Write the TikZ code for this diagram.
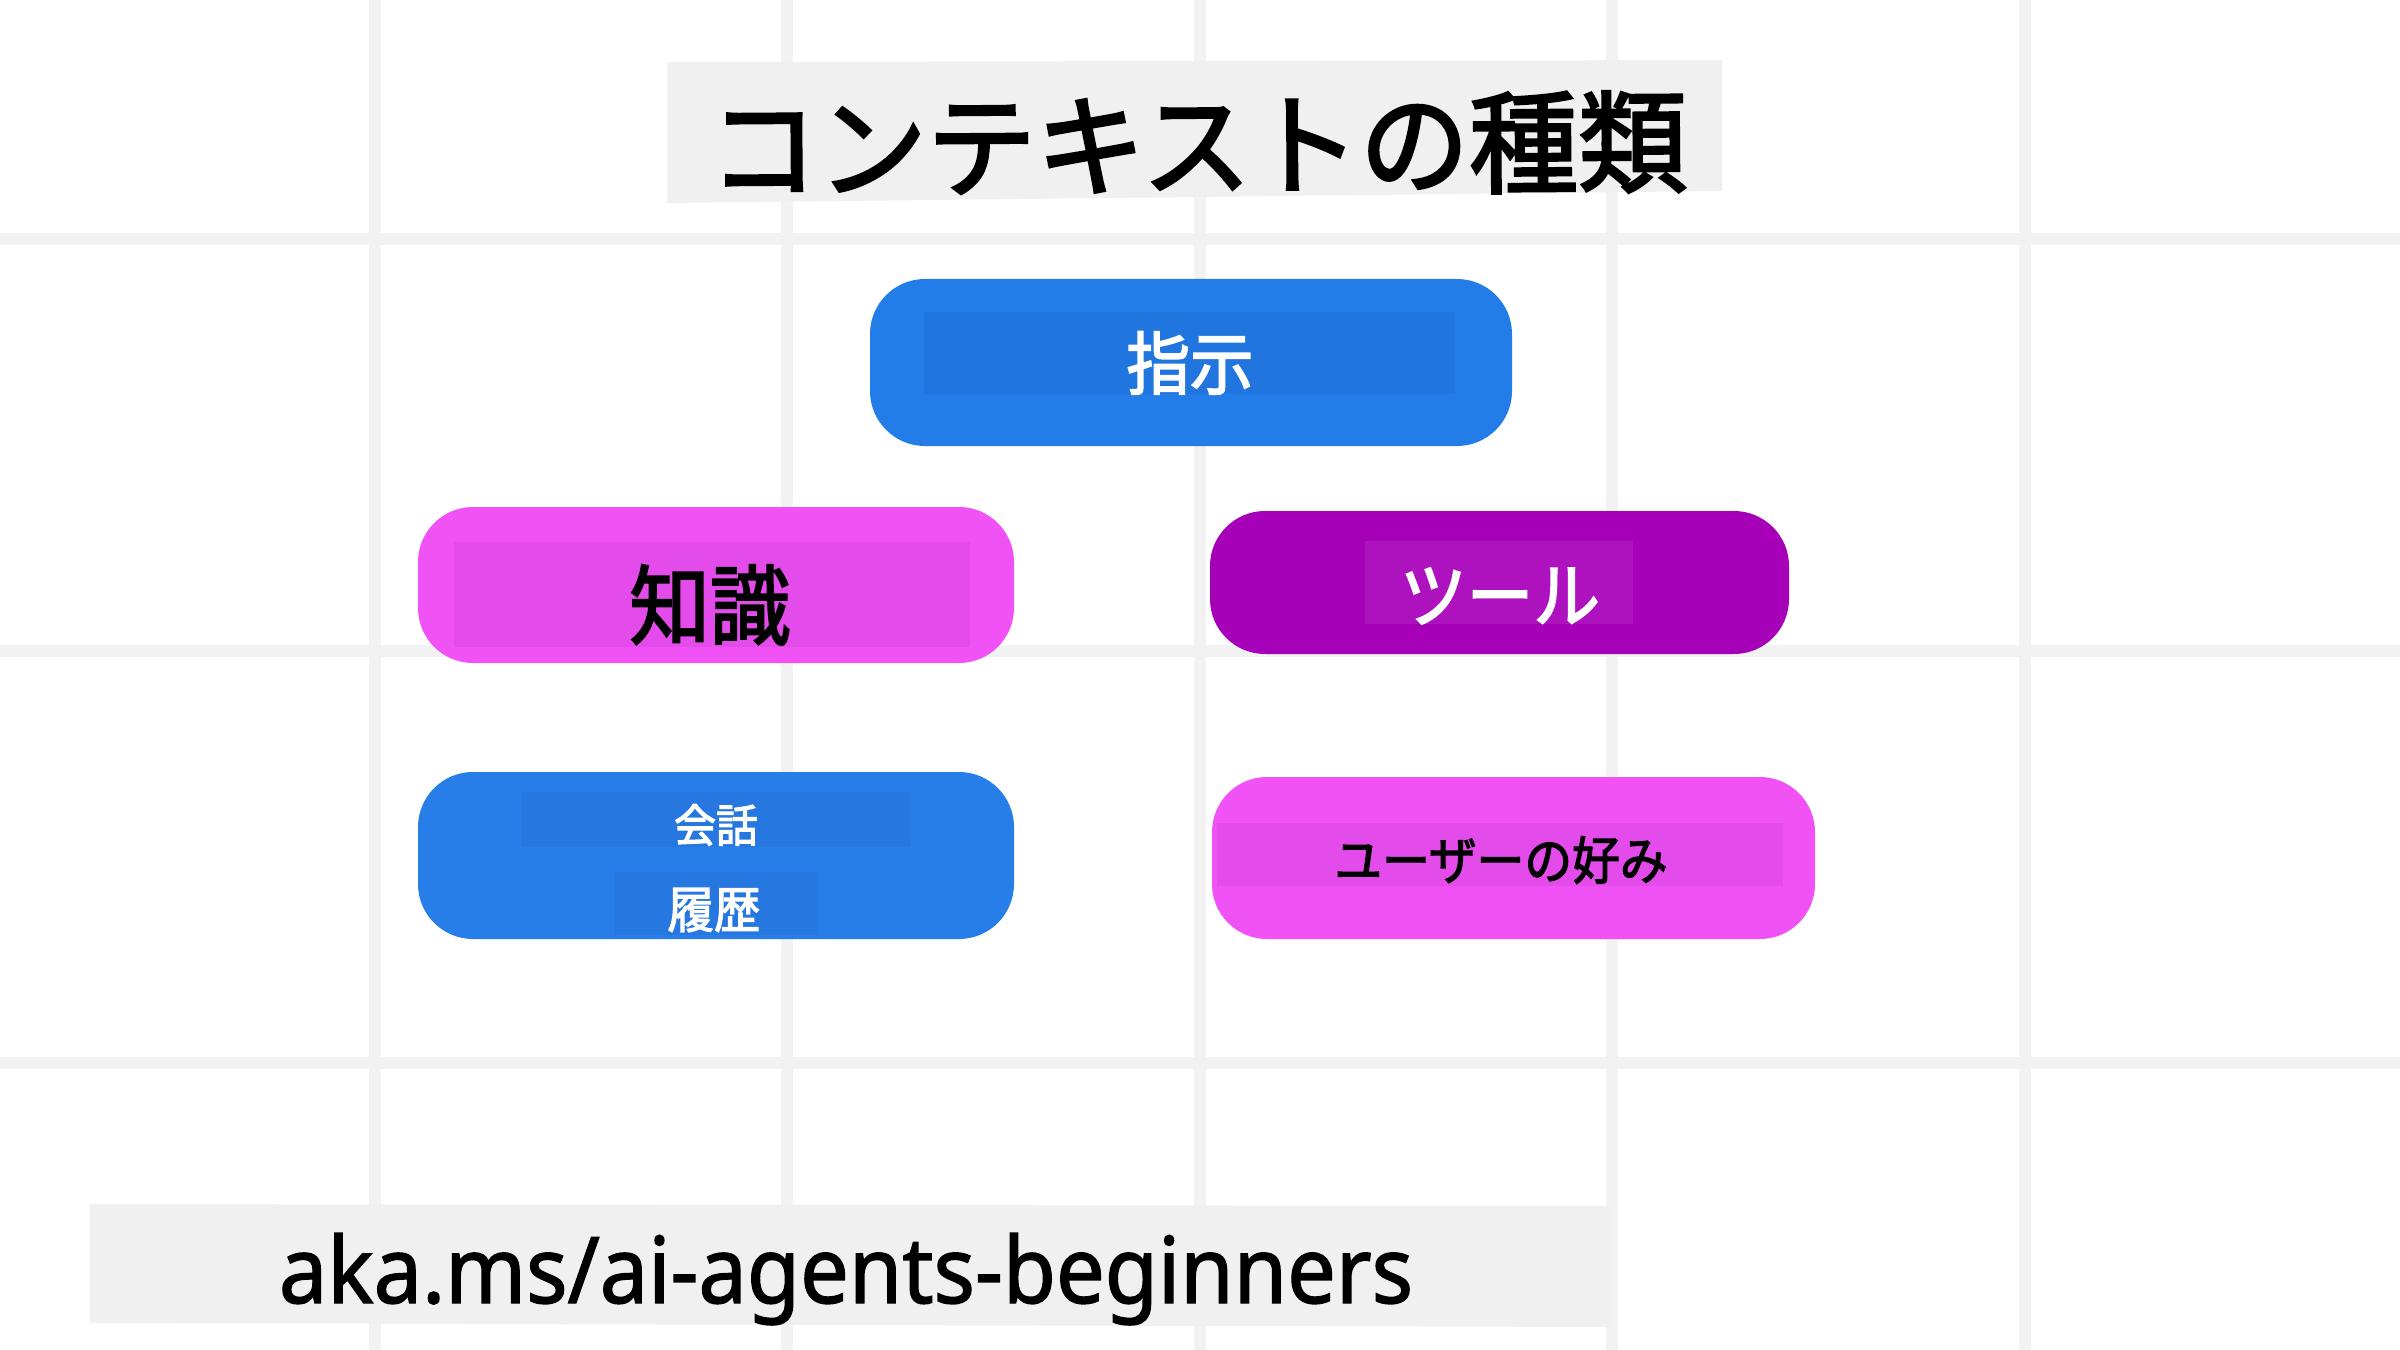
\documentclass[tikz,border=0pt]{standalone}
\usepackage{fontspec}
\setmainfont{Noto Sans}[FakeBold=1.5]
\newfontfamily\jp{Noto Sans CJK JP}[FakeBold=2.5]
\definecolor{gridc}{HTML}{F2F2F2}
\definecolor{bandc}{HTML}{F0F0F0}
\definecolor{blueA}{HTML}{227DE8}
\definecolor{blueAin}{HTML}{2175DE}
\definecolor{blueB}{HTML}{287EE8}
\definecolor{blueBin}{HTML}{2677E0}
\definecolor{pinkA}{HTML}{F152F5}
\definecolor{pinkAin}{HTML}{E34BEA}
\definecolor{purpA}{HTML}{A700B9}
\definecolor{purpAin}{HTML}{AD12BE}
\tikzset{
  gridline/.style={draw=gridc, line width=3.4pt},
  pill/.style={rounded corners=16.5pt},
  lbl/.style={inner sep=0pt, xscale=0.93, transform shape},
}
\begin{document}
\begin{tikzpicture}[x=0.3pt,y=-0.3pt]
\useasboundingbox (0,0) rectangle (2400,1350);
\fill[white] (0,0) rectangle (2400,1350);
% grid
\foreach \gx in {375,787,1200,1612,2025} \draw[gridline] (\gx,0) -- (\gx,1350);
\foreach \gy in {239,651,1063} \draw[gridline] (0,\gy) -- (2400,\gy);
% title band
\fill[bandc] (667,62) -- (1722,60) -- (1722,191) -- (667,203) -- cycle;
\node[lbl, xscale=1.05, rotate=0.4, font=\jp\fontsize{33.5pt}{40pt}\selectfont] (title) at (1198,145) {コンテキストの種類};
% instructions
\fill[blueA, pill] (870,279) rectangle (1512,446);
\fill[blueAin] (924,312) rectangle (1455,394);
\node[lbl, text=white, font=\jp\fontsize{20.5pt}{24pt}\selectfont] (instr) at (1190,363) {指示};
% knowledge
\fill[pinkA, pill] (418,507) rectangle (1014,663);
\fill[pinkAin] (454,542) rectangle (970,647);
\node[lbl, text=black, font=\jp\fontsize{26pt}{30pt}\selectfont] (know) at (710,605) {知識};
% tools
\fill[purpA, pill] (1210,511) rectangle (1789,654);
\fill[purpAin] (1365,541) rectangle (1633,624);
\node[lbl, text=white, font=\jp\fontsize{21.5pt}{25pt}\selectfont] (tools) at (1500,596) {ツール};
% conversation history
\fill[blueB, pill] (418,772) rectangle (1014,939);
\fill[blueBin] (522,792) rectangle (911,847);
\fill[blueBin] (614,872) rectangle (817,935);
\node[lbl, text=white, font=\jp\fontsize{13.5pt}{16pt}\selectfont] (conv) at (716,825) {会話};
\node[lbl, text=white, font=\jp\fontsize{15pt}{17pt}\selectfont] (hist) at (714,910) {履歴};
% user preferences
\fill[pinkA, pill] (1212,777) rectangle (1815,939);
\fill[pinkAin] (1217,823) rectangle (1783,886);
\node[lbl, text=black, font=\jp\fontsize{15.4pt}{18pt}\selectfont] (pref) at (1501,860) {ユーザーの好み};
% footer band
\fill[bandc] (90,1204) -- (1612,1206) -- (1612,1327) -- (90,1323) -- cycle;
\node[inner sep=0pt, anchor=base, xscale=0.94, transform shape, font=\fontsize{27.6pt}{33pt}\selectfont] (url) at (846,1303) {aka.ms/ai-agents-beginners};
\end{tikzpicture}
\end{document}
